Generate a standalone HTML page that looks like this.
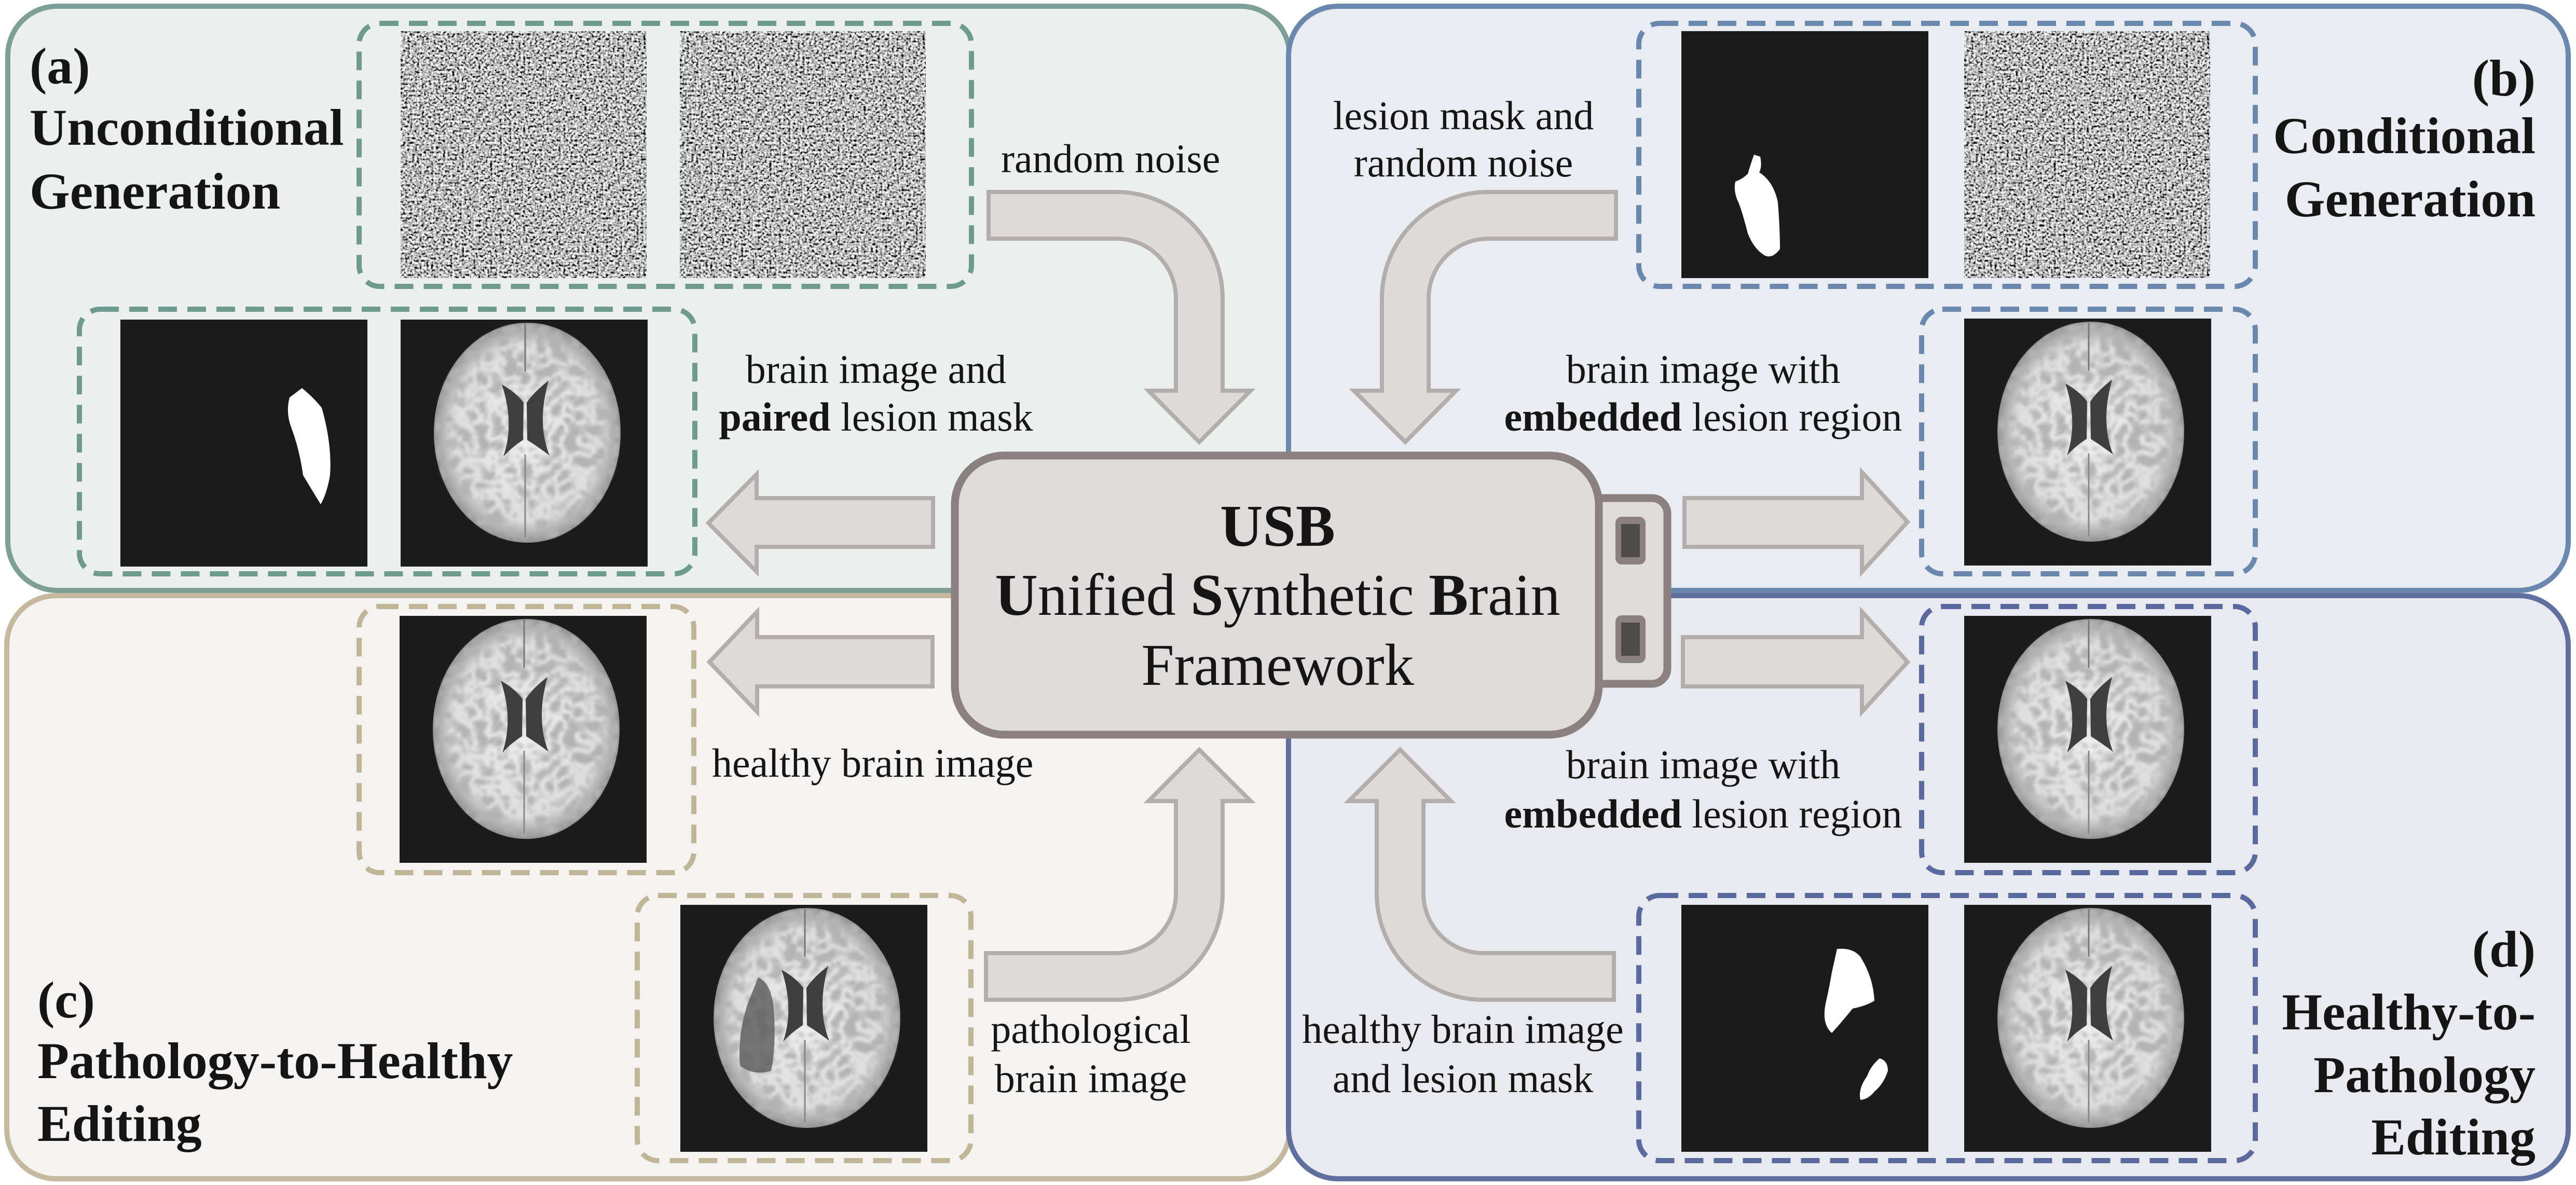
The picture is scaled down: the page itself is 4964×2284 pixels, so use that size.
<!DOCTYPE html>
<html><head><meta charset="utf-8"><style>
html,body{margin:0;padding:0;background:#fff;}
svg{display:block;font-family:"Liberation Serif","Tinos","Times New Roman","Times","Noto Serif CJK SC","DejaVu Serif",serif;}
text,tspan{font-family:"Liberation Serif","Tinos","Times New Roman","Times","Noto Serif CJK SC","DejaVu Serif",serif;fill:#151515;}
.lb{font-size:78px;}
.tt{font-size:100px;font-weight:bold;}
</style></head><body>
<svg width="4964" height="2284" viewBox="0 0 4964 2284" xmlns="http://www.w3.org/2000/svg">
<defs>
  <filter id="noise" x="0" y="0" width="100%" height="100%">
    <feTurbulence type="fractalNoise" baseFrequency="0.22" numOctaves="2" seed="3"/>
    <feColorMatrix type="saturate" values="0"/>
    <feComponentTransfer><feFuncR type="linear" slope="3.3" intercept="-1.15"/><feFuncG type="linear" slope="3.3" intercept="-1.15"/><feFuncB type="linear" slope="3.3" intercept="-1.15"/><feFuncA type="linear" slope="0" intercept="1"/></feComponentTransfer>
  </filter>
  <filter id="gyri" x="0" y="0" width="100%" height="100%">
    <feTurbulence type="turbulence" baseFrequency="0.035" numOctaves="2" seed="7" result="t"/>
    <feColorMatrix in="t" type="matrix" values="0 0 0 0 0.45  0 0 0 0 0.45  0 0 0 0 0.45  3 0 0 0 -0.3" result="m"/>
    <feComposite in="m" in2="SourceGraphic" operator="in"/>
    <feGaussianBlur stdDeviation="2.5"/>
  </filter>
  <radialGradient id="bg" cx="50%" cy="50%" r="50%">
    <stop offset="0" stop-color="#f0f0f0"/><stop offset="0.8" stop-color="#dedede"/><stop offset="1" stop-color="#909090"/>
  </radialGradient>
  <g id="brain">
    <rect width="476" height="476" fill="#1b1b1b"/>
    <ellipse cx="244" cy="218" rx="180" ry="212" fill="url(#bg)"/>
    <ellipse cx="244" cy="218" rx="178" ry="210" fill="#000" filter="url(#gyri)"/>
    <path d="M195,125 Q222,140 237,160 L236,232 Q214,246 198,264 Q220,200 195,125 Z" fill="#3f3f3f"/>
    <path d="M285,118 Q258,138 243,160 L244,232 Q266,246 287,262 Q262,200 285,118 Z" fill="#3f3f3f"/>
    <line x1="240" y1="8" x2="240" y2="100" stroke="#777" stroke-width="3"/>
    <line x1="240" y1="260" x2="240" y2="420" stroke="#888" stroke-width="3"/>
  </g>
  <g id="noiseimg"><rect width="474" height="476" fill="#888" filter="url(#noise)"/></g>
</defs>

<rect x="15" y="12" width="2470" height="1126" rx="95" fill="#ebefee" stroke="#7d9f96" stroke-width="10"/>
<rect x="2483" y="12" width="2466" height="1126" rx="95" fill="#e9ecf1" stroke="#6a88ae" stroke-width="10"/>
<rect x="13" y="1148" width="2472" height="1124" rx="95" fill="#f4f3f1" stroke="#c4b99f" stroke-width="10"/>
<rect x="2483" y="1148" width="2466" height="1124" rx="95" fill="#e8eaf0" stroke="#5f6f9f" stroke-width="10"/>

<g fill="none" stroke-width="10" stroke-dasharray="36 20">
  <rect x="692" y="45" width="1180" height="507" rx="40" stroke="#6f9a8e"/>
  <rect x="153" y="596" width="1186" height="510" rx="40" stroke="#6f9a8e"/>
  <rect x="3158" y="45" width="1188" height="507" rx="40" stroke="#6a88ae"/>
  <rect x="3703" y="596" width="643" height="510" rx="40" stroke="#6a88ae"/>
  <rect x="692" y="1169" width="645" height="513" rx="40" stroke="#c1b598"/>
  <rect x="1228" y="1726" width="643" height="511" rx="40" stroke="#c1b598"/>
  <rect x="3703" y="1169" width="643" height="513" rx="40" stroke="#5a6a9e"/>
  <rect x="3158" y="1726" width="1188" height="511" rx="40" stroke="#5a6a9e"/>
</g>

<use href="#noiseimg" x="772" y="60"/>
<use href="#noiseimg" x="1310" y="60"/>
<g transform="translate(232,616)"><rect width="476" height="476" fill="#1b1b1b"/>
  <path d="M350,132 Q372,150 388,170 Q408,240 404,300 Q398,335 386,356 Q370,330 352,300 Q345,250 330,210 Q318,180 326,150 Z" fill="#fff"/></g>
<use href="#brain" x="772" y="616"/>

<g transform="translate(3240,60)"><rect width="476" height="476" fill="#1b1b1b"/>
  <path d="M140,238 L152,242 Q156,262 150,272 Q178,290 186,330 Q190,380 190,420 Q175,440 160,432 Q140,420 128,390 Q118,350 110,330 Q100,310 104,290 Q118,285 128,275 Q134,255 140,238 Z" fill="#fff"/></g>
<use href="#noiseimg" x="3785" y="60"/>
<use href="#brain" x="3785" y="614"/>

<use href="#brain" x="770" y="1187"/>
<g transform="translate(1311,1744)"><use href="#brain"/>
  <path d="M150,140 Q175,150 180,200 Q185,270 175,320 Q140,330 115,310 Q110,250 130,190 Z" fill="#5a5a5a" opacity="0.8"/></g>

<use href="#brain" x="3785" y="1187"/>
<g transform="translate(3240,1744)"><rect width="476" height="476" fill="#1b1b1b"/>
  <path d="M300,85 Q330,82 345,100 Q370,140 372,185 Q355,195 330,200 Q310,225 290,247 Q270,230 278,190 Q285,160 290,130 Z" fill="#fff"/>
  <path d="M382,296 Q398,300 398,320 Q390,345 372,360 Q360,375 345,376 Q340,355 358,330 Q365,310 382,296 Z" fill="#fff"/></g>
<use href="#brain" x="3785" y="1744"/>

<g fill="#dedad9" stroke="#b3adac" stroke-width="8" stroke-linejoin="miter">
  <path d="M1905,370 L2151,370 A205,205 0 0 1 2356,575 L2356,753 L2410,753 L2311,852 L2213,753 L2266,753 L2266,575 A115,115 0 0 0 2151,460 L1905,460 Z"/>
  <path d="M3114,370 L2868,370 A205,205 0 0 0 2663,575 L2663,753 L2609,753 L2708,852 L2806,753 L2753,753 L2753,575 A115,115 0 0 1 2868,460 L3114,460 Z"/>
  <path d="M1900,1927 L2151,1927 A205,205 0 0 0 2356,1722 L2356,1544 L2410,1544 L2311,1445 L2213,1544 L2266,1544 L2266,1722 A115,115 0 0 1 2151,1837 L1900,1837 Z"/>
  <path d="M3110,1927 L2858,1927 A205,205 0 0 1 2653,1722 L2653,1544 L2599,1544 L2698,1445 L2796,1544 L2743,1544 L2743,1722 A115,115 0 0 0 2858,1837 L3110,1837 Z"/>
  <path d="M1798,960 L1458,960 L1458,914 L1365,1008 L1458,1102 L1458,1054 L1798,1054 Z"/>
  <path d="M1797,1228 L1459,1228 L1459,1179 L1367,1276 L1459,1372 L1459,1323 L1797,1323 Z"/>
  <path d="M3246,960 L3588,960 L3588,910 L3676,1006 L3588,1102 L3588,1054 L3246,1054 Z"/>
  <path d="M3243,1228 L3588,1228 L3588,1179 L3676,1276 L3588,1372 L3588,1323 L3243,1323 Z"/>
</g>

<rect x="3040" y="960" width="173" height="358" rx="30" fill="#dfdbda" stroke="#8a807f" stroke-width="15"/>
<rect x="1840" y="878" width="1241" height="538" rx="95" fill="#dfdbda" stroke="#8a807f" stroke-width="15"/>
<rect x="3113" y="996" width="58" height="92" rx="12" fill="#8a807f"/>
<rect x="3124" y="1010" width="36" height="64" fill="#4d4a4a"/>
<rect x="3113" y="1186" width="58" height="92" rx="12" fill="#8a807f"/>
<rect x="3124" y="1200" width="36" height="64" fill="#4d4a4a"/>
<g font-size="114" text-anchor="middle">
  <text x="2462" y="1052" font-weight="bold">USB</text>
  <text x="2462" y="1185"><tspan font-weight="bold">U</tspan>nified <tspan font-weight="bold">S</tspan>ynthetic <tspan font-weight="bold">B</tspan>rain</text>
  <text x="2462" y="1320">Framework</text>
</g>

<text class="tt" x="57" y="161">(a)</text>
<text class="tt" x="57" y="279">Unconditional</text>
<text class="tt" x="57" y="402">Generation</text>
<g text-anchor="end">
<text class="tt" x="4886" y="184">(b)</text>
<text class="tt" x="4886" y="295">Conditional</text>
<text class="tt" x="4886" y="417">Generation</text>
<text class="tt" x="4886" y="1863">(d)</text>
<text class="tt" x="4886" y="1984">Healthy-to-</text>
<text class="tt" x="4886" y="2105">Pathology</text>
<text class="tt" x="4886" y="2225">Editing</text>
</g>
<text class="tt" x="72" y="1961">(c)</text>
<text class="tt" x="72" y="2078">Pathology-to-Healthy</text>
<text class="tt" x="72" y="2199">Editing</text>

<text class="lb" x="1929" y="332">random noise</text>
<g text-anchor="middle">
<text class="lb" x="1688" y="738">brain image and</text>
<text class="lb" x="1688" y="830"><tspan font-weight="bold">paired</tspan> lesion mask</text>
<text class="lb" x="2820" y="249">lesion mask and</text>
<text class="lb" x="2820" y="340">random noise</text>
<text class="lb" x="3282" y="738">brain image with</text>
<text class="lb" x="3282" y="830"><tspan font-weight="bold">embedded</tspan> lesion region</text>
<text class="lb" x="2102" y="2010">pathological</text>
<text class="lb" x="2102" y="2105">brain image</text>
<text class="lb" x="3282" y="1500">brain image with</text>
<text class="lb" x="3282" y="1595"><tspan font-weight="bold">embedded</tspan> lesion region</text>
<text class="lb" x="2819" y="2010">healthy brain image</text>
<text class="lb" x="2819" y="2105">and lesion mask</text>
</g>
<text class="lb" x="1372" y="1497">healthy brain image</text>
</svg>
</body></html>
